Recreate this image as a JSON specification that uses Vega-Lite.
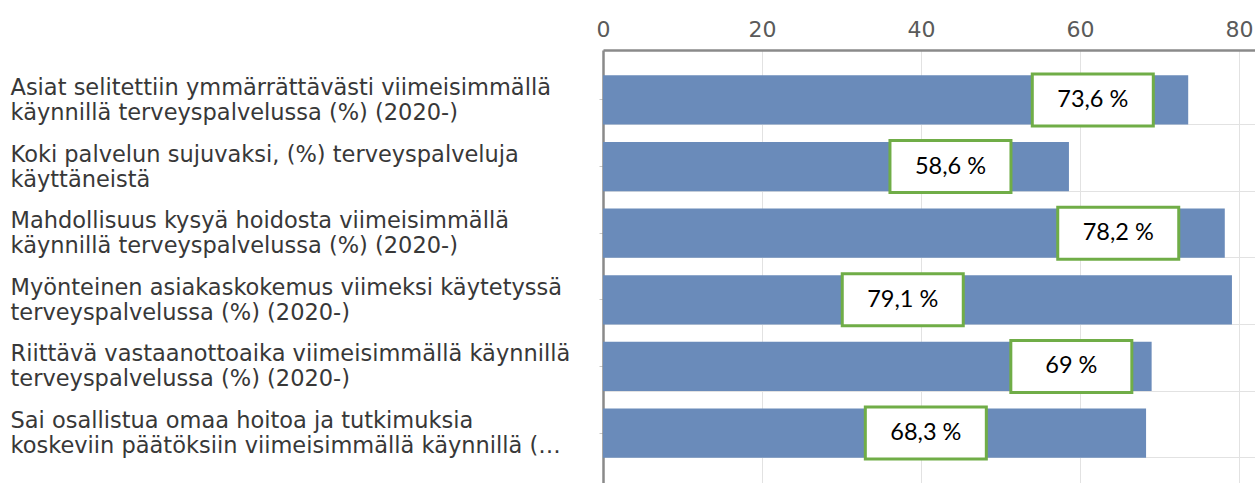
{
  "$schema": "https://vega.github.io/schema/vega-lite/v6.json",
  "width": 652,
  "height": 433,
  "autosize": "none",
  "padding": {"left": 603, "top": 50, "right": 0, "bottom": 0},
  "background": "white",
  "config": {"view": {"stroke": null}},
  "data": {
    "values": [
      {"label": "Asiat selitettiin ymmärrättävästi viimeisimmällä|käynnillä terveyspalvelussa (%) (2020-)", "value": 73.6, "labelX": 61.6, "text": "73,6 %"},
      {"label": "Koki palvelun sujuvaksi, (%) terveyspalveluja|käyttäneistä", "value": 58.6, "labelX": 43.7, "text": "58,6 %"},
      {"label": "Mahdollisuus kysyä hoidosta viimeisimmällä|käynnillä terveyspalvelussa (%) (2020-)", "value": 78.2, "labelX": 64.8, "text": "78,2 %"},
      {"label": "Myönteinen asiakaskokemus viimeksi käytetyssä|terveyspalvelussa (%) (2020-)", "value": 79.1, "labelX": 37.7, "text": "79,1 %"},
      {"label": "Riittävä vastaanottoaika viimeisimmällä käynnillä|terveyspalvelussa (%) (2020-)", "value": 69, "labelX": 58.9, "text": "69 %"},
      {"label": "Sai osallistua omaa hoitoa ja tutkimuksia|koskeviin päätöksiin viimeisimmällä käynnillä (…", "value": 68.3, "labelX": 40.6, "text": "68,3 %"}
    ]
  },
  "layer": [
    {
      "mark": {"type": "bar", "color": "#6A8BBA"},
      "encoding": {
        "y": {
          "field": "label", "type": "nominal", "sort": null,
          "scale": {"paddingInner": 0.26, "paddingOuter": 0.38},
          "axis": {
            "title": null,
            "orient": "left",
            "grid": false,
            "domain": true, "domainColor": "#8a8a8a", "domainWidth": 2.5,
            "ticks": true, "tickColor": "#c8c8c8", "tickSize": 4,
            "labelAlign": "left", "labelBaseline": "middle",
            "labelPadding": 589, "labelLimit": 700,
            "labelFont": "DejaVu Sans", "labelFontSize": 22.5, "labelColor": "#383838",
            "labelLineHeight": 25,
            "labelOffset": -12,
            "labelExpr": "split(datum.label, '|')"
          }
        },
        "x": {
          "field": "value", "type": "quantitative",
          "scale": {"domain": [0, 82], "nice": false},
          "axis": {
            "title": null, "orient": "top",
            "values": [0, 20, 40, 60, 80],
            "grid": true, "gridColor": "#e2e2e2", "gridWidth": 1,
            "domain": true, "domainColor": "#8a8a8a", "domainWidth": 2.5,
            "ticks": false,
            "labelPadding": 9, "labelFont": "DejaVu Sans", "labelFontSize": 22,
            "labelColor": "#5a5a5a", "labelFlush": false
          }
        }
      }
    },
    {
      "mark": {"type": "bar", "opacity": 0},
      "encoding": {
        "y": {
          "field": "label", "type": "nominal", "sort": null,
          "axis": {
            "title": null, "orient": "left", "labels": false, "ticks": false, "domain": false,
            "grid": true, "gridColor": "#e2e2e2", "bandPosition": 1
          }
        },
        "x": {"field": "value", "type": "quantitative"}
      }
    },
    {
      "mark": {
        "type": "point",
        "shape": "M-1,-0.43L1,-0.43L1,0.43L-1,0.43Z",
        "size": 14641,
        "filled": true,
        "fill": "white",
        "stroke": "#70AD47",
        "strokeWidth": 3,
        "opacity": 1
      },
      "encoding": {
        "y": {"field": "label", "type": "nominal", "sort": null},
        "x": {"field": "labelX", "type": "quantitative"}
      }
    },
    {
      "mark": {"type": "text", "font": "Lato", "fontSize": 23.5, "color": "#000000", "align": "center", "baseline": "middle"},
      "encoding": {
        "y": {"field": "label", "type": "nominal", "sort": null},
        "x": {"field": "labelX", "type": "quantitative"},
        "text": {"field": "text"}
      }
    }
  ],
  "resolve": {"axis": {"y": "independent"}}
}
